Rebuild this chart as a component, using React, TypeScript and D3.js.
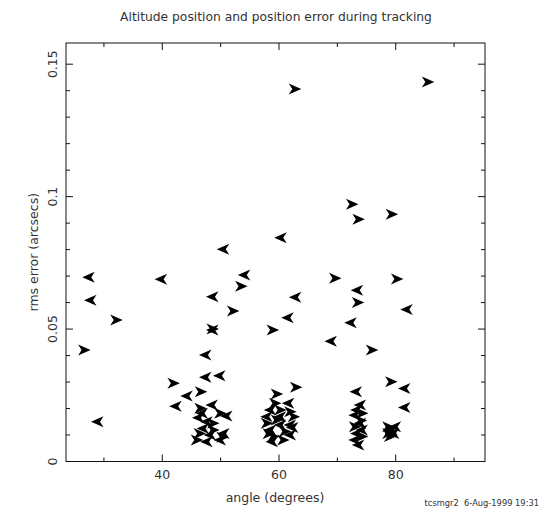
import React from "react";
import * as d3 from "d3";

const titleText = "Altitude position and position error during tracking";
const xLabel = "angle (degrees)";
const yLabel = "rms error (arcsecs)";
const footer = "tcsmgr2  6-Aug-1999 19:31";

const xMajorTicks = [40, 60, 80];
const xMinorTicks = [30, 50, 70, 90];
const yMajorTicks = [0, 0.05, 0.1, 0.15];
const yTickLabels = ["0", "0.05", "0.1", "0.15"];
const yMinorTicks = [0.01, 0.02, 0.03, 0.04, 0.06, 0.07, 0.08, 0.09, 0.11, 0.12, 0.13, 0.14];

// angle (degrees)
const angles = [
  62.7, 85.5, 50.45, 27.4, 39.8, 54.05, 53.5, 27.7, 48.6, 52.1,
  72.5, 73.6, 79.3, 60.3, 69.6, 80.2, 73.4, 62.8, 73.5, 81.9,
  61.5, 72.3, 58.9, 68.9, 75.9, 62.9, 79.2, 81.5, 73.2, 81.5,
  32.1, 26.6, 28.9, 48.6, 48.6, 47.4, 47.4, 49.8, 41.9, 46.6,
  44.2, 42.3, 59.6,
  // cluster ~48
  48.5, 46.5, 51.0, 49.9, 46.8, 47.6, 48.7, 46.4, 50.5, 48.2,
  45.9, 49.9, 47.6, 48.7, 47.0, 50.3, 46.2,
  // cluster ~60
  59.3, 61.6, 58.5, 61.9, 57.9, 60.2, 62.5, 57.9, 60.2, 61.9,
  58.5, 61.0, 59.0, 61.9, 58.8, 60.7, 60.2, 59.6, 62.3, 58.2,
  // cluster ~73
  73.9, 73.3, 74.2, 73.0, 73.9, 73.0, 74.2, 73.3, 74.2, 73.0,
  73.6, 74.0,
  // cluster ~80
  78.7, 79.3, 78.7, 79.6, 79.0, 79.9,
];

// rms error (arcsecs)
const rmsErrors = [
  0.1406, 0.1433, 0.0801, 0.0696, 0.0688, 0.0704, 0.0662, 0.0609, 0.0622, 0.0568,
  0.0971, 0.0915, 0.0933, 0.0845, 0.0692, 0.0689, 0.0647, 0.062, 0.06, 0.0574,
  0.0543, 0.0524, 0.0496, 0.0454, 0.0421, 0.028, 0.0301, 0.0276, 0.0263, 0.0204,
  0.0534, 0.0421, 0.015, 0.0496, 0.05, 0.0402, 0.0318, 0.0324, 0.0295, 0.0263,
  0.0247, 0.0209, 0.0255,
  0.0213, 0.0201, 0.0172, 0.0182, 0.0182, 0.015, 0.0144, 0.0106, 0.0106, 0.01,
  0.0081, 0.0081, 0.0075, 0.0119, 0.0125, 0.0092, 0.0165,
  0.022, 0.022, 0.0194, 0.0188, 0.0169, 0.0169, 0.0169, 0.0144, 0.0138, 0.0138,
  0.0119, 0.0113, 0.0094, 0.01, 0.0075, 0.0081, 0.0194, 0.0157, 0.0128, 0.0105,
  0.0213, 0.0194, 0.0182, 0.0175, 0.0144, 0.0131, 0.0119, 0.0106, 0.0094, 0.0081,
  0.0062, 0.0155,
  0.0131, 0.0119, 0.0106, 0.0106, 0.0094, 0.0131,
];

// marker direction: "L" = pointing left, "R" = pointing right
const directions = [
  "R", "R", "L", "L", "L", "L", "R", "L", "L", "R",
  "R", "R", "R", "L", "R", "R", "L", "L", "R", "L",
  "L", "L", "R", "L", "R", "R", "R", "L", "L", "L",
  "R", "R", "L", "L", "R", "L", "L", "L", "R", "R",
  "L", "L", "R",
  "L", "R", "L", "R", "L", "L", "R", "R", "L", "L",
  "R", "L", "L", "R", "L", "R", "L",
  "R", "L", "L", "R", "L", "L", "R", "R", "L", "L",
  "L", "R", "R", "L", "L", "R", "R", "R", "L", "R",
  "L", "L", "R", "L", "L", "R", "L", "L", "R", "L",
  "L", "R",
  "R", "L", "R", "L", "R", "L",
];

const W = 542;
const H = 511;
const left = 66, right = 485, top = 43, bottom = 461.5;

export default function App() {
  const x = d3.scaleLinear().domain([23.5, 95.3]).range([left, right]);
  const y = d3.scaleLinear().domain([0, 0.158]).range([bottom, top]);

  const rightArrow = "M6.5,0 L-6,-5.5 L-2.5,0 L-6,5.5 Z";
  const leftArrow = "M-6.5,0 L6,-5.5 L2.5,0 L6,5.5 Z";

  const font = "'DejaVu Sans', sans-serif";
  const textCol = "#333";
  const majorLen = 7;
  const minorLen = 4;

  return (
    <svg
      width={W}
      height={H}
      style={{ position: "absolute", left: 0, top: 0, background: "#fff" }}
    >
      <rect x={0} y={0} width={W} height={H} fill="#fff" />
      <text x={276} y={21} textAnchor="middle" fontFamily={font} fontSize={12.3} fill={textCol}>
        {titleText}
      </text>

      {/* frame */}
      <rect x={left} y={top} width={right - left} height={bottom - top} fill="none" stroke="#111" strokeWidth={1} />

      {/* x ticks, bottom and top */}
      {xMajorTicks.map((t) => (
        <g key={"xm" + t}>
          <line x1={x(t)} x2={x(t)} y1={bottom} y2={bottom - majorLen} stroke="#111" />
          <line x1={x(t)} x2={x(t)} y1={top} y2={top + majorLen} stroke="#111" />
          <text x={x(t)} y={479} textAnchor="middle" fontFamily={font} fontSize={12.5} fill={textCol}>
            {t}
          </text>
        </g>
      ))}
      {xMinorTicks.map((t) => (
        <g key={"xn" + t}>
          <line x1={x(t)} x2={x(t)} y1={bottom} y2={bottom - minorLen} stroke="#111" />
          <line x1={x(t)} x2={x(t)} y1={top} y2={top + minorLen} stroke="#111" />
        </g>
      ))}

      {/* y ticks, left and right */}
      {yMajorTicks.map((t, i) => (
        <g key={"ym" + t}>
          <line x1={left} x2={left + majorLen} y1={y(t)} y2={y(t)} stroke="#111" />
          <line x1={right} x2={right - majorLen} y1={y(t)} y2={y(t)} stroke="#111" />
          <text
            transform={`translate(57,${y(t)}) rotate(-90)`}
            textAnchor="middle"
            fontFamily={font}
            fontSize={12.5}
            fill={textCol}
          >
            {yTickLabels[i]}
          </text>
        </g>
      ))}
      {yMinorTicks.map((t) => (
        <g key={"yn" + t}>
          <line x1={left} x2={left + minorLen} y1={y(t)} y2={y(t)} stroke="#111" />
          <line x1={right} x2={right - minorLen} y1={y(t)} y2={y(t)} stroke="#111" />
        </g>
      ))}

      <text x={275} y={502} textAnchor="middle" fontFamily={font} fontSize={12.5} fill={textCol}>
        {xLabel}
      </text>
      <text
        transform={`translate(38,${(top + bottom) / 2}) rotate(-90)`}
        textAnchor="middle"
        fontFamily={font}
        fontSize={12.5}
        fill={textCol}
      >
        {yLabel}
      </text>
      <text
        x={539}
        y={506}
        textAnchor="end"
        fontFamily={font}
        fontSize={8.3}
        fill={textCol}
        style={{ whiteSpace: "pre" }}
      >
        {footer}
      </text>

      {/* markers */}
      {angles.map((a, i) => (
        <path
          key={"p" + i}
          transform={`translate(${x(a)},${y(rmsErrors[i])})`}
          d={directions[i] === "L" ? leftArrow : rightArrow}
          fill="#000"
        />
      ))}
    </svg>
  );
}
